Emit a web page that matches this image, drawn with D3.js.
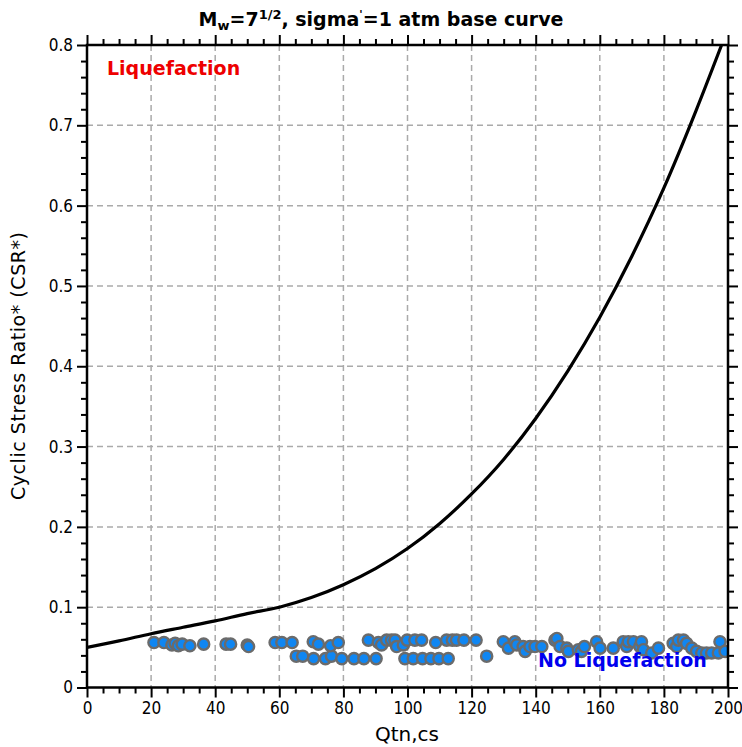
<!DOCTYPE html>
<html>
<head>
<meta charset="utf-8">
<script src="https://cdn.jsdelivr.net/npm/d3@7"></script>
<style>
  html, body { margin: 0; padding: 0; background: #fff; }
  svg { display: block; font-family: "DejaVu Sans", Verdana, sans-serif; }
</style>
</head>
<body>
<svg id="chart" width="742" height="747"></svg>
<script>
// Base CRR curve (Qtn,cs vs CSR*)
const curveQ   = [0, 10, 20, 30, 40, 50, 60, 70, 80, 90, 100, 110, 120, 130, 140, 150, 160, 170, 180, 190, 198];
const curveCSR = [0.050, 0.058, 0.067, 0.075, 0.083, 0.092, 0.100, 0.112, 0.128, 0.148, 0.173, 0.204, 0.241, 0.284, 0.335, 0.394, 0.461, 0.537, 0.622, 0.718, 0.800];

// Case histories (Qtn,cs, CSR*)
const pointQ = [
  20.9, 24.0, 26.5, 27.5, 28.5, 29.7, 32.1, 36.4, 43.4, 44.8, 50.0, 50.4,
  58.7, 60.8, 64.0, 65.3, 67.3, 70.6, 72.2, 70.7, 74.4, 76.3, 76.0, 78.4,
  79.5, 83.3, 86.4, 87.8, 90.2, 90.9, 91.9, 93.5, 95.0, 96.1, 96.6, 98.7,
  99.9, 99.2, 101.8, 102.3, 104.4, 104.7, 107.3, 108.8, 109.8, 112.2, 112.7, 114.0,
  115.3, 117.6, 121.4, 124.7, 129.9, 131.5, 133.5, 134.1, 136.1, 136.7, 138.2, 139.8,
  141.9, 146.0, 146.6, 147.6, 149.7, 150.2, 153.3, 154.3, 155.2, 159.0, 160.1, 164.2,
  167.3, 168.4, 168.9, 170.5, 172.5, 173.0, 173.6, 176.2, 178.3, 182.9, 184.0, 184.5,
  186.1, 187.1, 188.7, 190.2, 191.8, 193.3, 194.9, 197.0, 197.5, 199.1
];
const pointCSR = [
  0.056, 0.056, 0.053, 0.055, 0.052, 0.054, 0.052, 0.054, 0.054, 0.054, 0.053, 0.051,
  0.056, 0.056, 0.056, 0.039, 0.039, 0.057, 0.054, 0.036, 0.036, 0.039, 0.052, 0.056,
  0.036, 0.036, 0.036, 0.059, 0.036, 0.056, 0.053, 0.059, 0.059, 0.059, 0.051, 0.053,
  0.059, 0.036, 0.036, 0.059, 0.059, 0.036, 0.036, 0.056, 0.036, 0.059, 0.036, 0.059,
  0.059, 0.059, 0.059, 0.039, 0.057, 0.049, 0.057, 0.053, 0.051, 0.045, 0.051, 0.051,
  0.051, 0.059, 0.061, 0.051, 0.049, 0.045, 0.047, 0.045, 0.051, 0.057, 0.049, 0.049,
  0.057, 0.051, 0.057, 0.057, 0.051, 0.057, 0.047, 0.043, 0.049, 0.055, 0.051, 0.059,
  0.059, 0.055, 0.049, 0.045, 0.043, 0.043, 0.043, 0.043, 0.057, 0.045
];

const xMajorTicks = [0, 20, 40, 60, 80, 100, 120, 140, 160, 180, 200];
const yMajorTicks = [0, 0.1, 0.2, 0.3, 0.4, 0.5, 0.6, 0.7, 0.8];

const svg = d3.select("#chart");
const m = { left: 87, top: 45, right: 728, bottom: 687.5 };

const x = d3.scaleLinear().domain([0, 200]).range([m.left, m.right]);
const y = d3.scaleLinear().domain([0, 0.8]).range([m.bottom, m.top]);

const xMinor = d3.range(0, 201, 5).filter(v => v % 20 !== 0);
const yMinor = d3.range(0, 81, 2).filter(v => v % 10 !== 0).map(v => v / 100);

// grid
const grid = svg.append("g").attr("stroke", "#aaaaaa").attr("stroke-width", 1.5)
  .attr("stroke-dasharray", "6,4");
grid.selectAll("line.gx").data(xMajorTicks.slice(1, -1)).join("line")
  .attr("x1", d => x(d)).attr("x2", d => x(d)).attr("y1", m.top).attr("y2", m.bottom);
grid.selectAll("line.gy").data(yMajorTicks.slice(1, -1)).join("line")
  .attr("x1", m.left).attr("x2", m.right).attr("y1", d => y(d)).attr("y2", d => y(d));

// clip for data
svg.append("clipPath").attr("id", "plot").append("rect")
  .attr("x", m.left).attr("y", m.top).attr("width", m.right - m.left).attr("height", m.bottom - m.top);

// points
const pts = pointQ.map((q, i) => [q, pointCSR[i]]);
svg.append("g").attr("clip-path", "url(#plot)")
  .selectAll("circle").data(pts).join("circle")
  .attr("cx", d => x(d[0])).attr("cy", d => y(d[1])).attr("r", 5.6)
  .attr("fill", "#0f86f2").attr("stroke", "#6b6b6b").attr("stroke-width", 2.4);

// base curve
const line = d3.line().x(d => x(d[0])).y(d => y(d[1])).curve(d3.curveMonotoneX);
svg.append("path").attr("clip-path", "url(#plot)")
  .datum(curveQ.map((q, i) => [q, curveCSR[i]]))
  .attr("d", line).attr("fill", "none").attr("stroke", "#000").attr("stroke-width", 3.2);

// axes: ticks outside on all four sides
const axisG = svg.append("g");
const bottomAxis = d3.axisBottom(x).tickValues(xMajorTicks).tickSize(10).tickPadding(4).tickFormat(d3.format("d"));
const topAxis = d3.axisTop(x).tickValues(xMajorTicks).tickSize(10).tickFormat("");
const leftAxis = d3.axisLeft(y).tickValues(yMajorTicks).tickSize(10).tickPadding(4).tickFormat(d => d === 0 ? "0" : d3.format(".1f")(d));
const rightAxis = d3.axisRight(y).tickValues(yMajorTicks).tickSize(10).tickFormat("");

const bMinor = d3.axisBottom(x).tickValues(xMinor).tickSize(6).tickFormat("");
const tMinor = d3.axisTop(x).tickValues(xMinor).tickSize(6).tickFormat("");
const lMinor = d3.axisLeft(y).tickValues(yMinor).tickSize(6).tickFormat("");
const rMinor = d3.axisRight(y).tickValues(yMinor).tickSize(6).tickFormat("");

function place(ax, tr) {
  const g = axisG.append("g").attr("transform", tr).call(ax);
  g.select(".domain").remove();
  g.selectAll(".tick line").attr("stroke", "#000").attr("stroke-width", 2);
  g.selectAll(".tick text").attr("fill", "#000").style("font-size", "17px")
    .style("font-family", "'DejaVu Sans Condensed', 'DejaVu Sans', sans-serif");
  return g;
}
place(bMinor, `translate(0,${m.bottom})`);
place(tMinor, `translate(0,${m.top})`);
place(lMinor, `translate(${m.left},0)`);
place(rMinor, `translate(${m.right},0)`);
place(bottomAxis, `translate(0,${m.bottom})`);
place(topAxis, `translate(0,${m.top})`);
place(leftAxis, `translate(${m.left},0)`);
place(rightAxis, `translate(${m.right},0)`);

// frame
svg.append("rect").attr("x", m.left).attr("y", m.top)
  .attr("width", m.right - m.left).attr("height", m.bottom - m.top)
  .attr("fill", "none").attr("stroke", "#000").attr("stroke-width", 2.5);

// region labels
svg.append("text").attr("x", 107).attr("y", 75)
  .attr("fill", "#ee0000").attr("font-weight", "bold").attr("font-size", 19)
  .text("Liquefaction");
svg.append("text").attr("x", 538).attr("y", 667)
  .attr("fill", "#0000ee").attr("font-weight", "bold").attr("font-size", 19)
  .text("No Liquefaction");

// title
const title = svg.append("text").attr("x", 381).attr("y", 26)
  .attr("text-anchor", "middle").attr("font-weight", "bold").attr("font-size", 19).attr("fill", "#000");
title.append("tspan").text("M");
title.append("tspan").attr("font-size", 13).attr("dy", 4).text("w");
title.append("tspan").attr("dy", -4).text("=7");
title.append("tspan").attr("font-size", 13).attr("dy", -7).text("1/2");
title.append("tspan").attr("dy", 7).text(", sigma");
title.append("tspan").attr("font-size", 11).attr("dy", -8).text("'");
title.append("tspan").attr("dy", 8).text("=1 atm base curve");

// axis titles
svg.append("text").attr("x", 407).attr("y", 741)
  .attr("text-anchor", "middle").attr("font-size", 20).attr("fill", "#000").text("Qtn,cs");
svg.append("text").attr("transform", `translate(25,366) rotate(-90)`)
  .attr("text-anchor", "middle").attr("font-size", 19).attr("fill", "#000")
  .attr("textLength", 268).attr("lengthAdjust", "spacing")
  .text("Cyclic Stress Ratio* (CSR*)");
</script>
</body>
</html>
